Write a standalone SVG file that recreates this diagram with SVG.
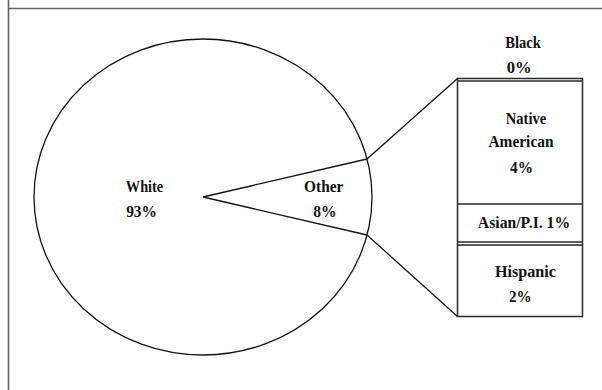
<svg xmlns="http://www.w3.org/2000/svg" width="602" height="390" viewBox="0 0 602 390">
<style>
text{font-family:"Liberation Serif","Times New Roman",serif;font-weight:bold;font-size:17.5px;fill:#111;text-anchor:middle}
.frame{stroke:#666;stroke-width:1.6;fill:none}
.ln{stroke:#111;stroke-width:1.3;fill:none}
.bar{stroke:#2a2a2a;stroke-width:1.5;fill:#fff}
</style>
<rect width="602" height="390" fill="#fff"/>
<g id="frame">
<line class="frame" x1="8.5" y1="0" x2="8.5" y2="390"/>
<line class="frame" x1="8" y1="8.5" x2="602" y2="8.5"/>
</g>
<g id="pie">
<ellipse class="ln" cx="203" cy="197" rx="169" ry="158"/>
<path class="ln" d="M367,159 L203,197 L367,235"/>
<text x="144.5" y="191.7" textLength="37.3" lengthAdjust="spacingAndGlyphs">White</text>
<text x="141.5" y="216.7" textLength="30.7" lengthAdjust="spacingAndGlyphs">93%</text>
<text x="323.7" y="191.7" textLength="39.3" lengthAdjust="spacingAndGlyphs">Other</text>
<text x="325" y="216.7" textLength="23.3" lengthAdjust="spacingAndGlyphs">8%</text>
</g>
<g id="connectors">
<line class="ln" x1="367" y1="159" x2="457.5" y2="78.5"/>
<line class="ln" x1="367" y1="235" x2="457.5" y2="316.5"/>
</g>
<g id="bar">
<rect class="bar" x="457.5" y="78.5" width="125" height="238"/>
<line class="bar" x1="457.5" y1="81" x2="582.5" y2="81"/>
<line class="bar" x1="457.5" y1="204" x2="582.5" y2="204"/>
<line class="bar" x1="457.5" y1="242" x2="582.5" y2="242"/>
<line class="bar" x1="457.5" y1="245" x2="582.5" y2="245"/>
</g>
<g id="black">
<text x="523" y="48.3" textLength="35.7" lengthAdjust="spacingAndGlyphs">Black</text>
<text x="519.2" y="73.3" textLength="25" lengthAdjust="spacingAndGlyphs">0%</text>
</g>
<g id="native">
<text x="526" y="124" textLength="40.3" lengthAdjust="spacingAndGlyphs">Native</text>
<text x="521" y="147.3" textLength="65" lengthAdjust="spacingAndGlyphs">American</text>
<text x="521.5" y="173" textLength="23" lengthAdjust="spacingAndGlyphs">4%</text>
</g>
<g id="asian">
<text x="524" y="227.7" textLength="92.3" lengthAdjust="spacingAndGlyphs">Asian/P.I. 1%</text>
</g>
<g id="hispanic">
<text x="525.5" y="276.7" textLength="61" lengthAdjust="spacingAndGlyphs">Hispanic</text>
<text x="520.3" y="301.7" textLength="22.7" lengthAdjust="spacingAndGlyphs">2%</text>
</g>
</svg>
